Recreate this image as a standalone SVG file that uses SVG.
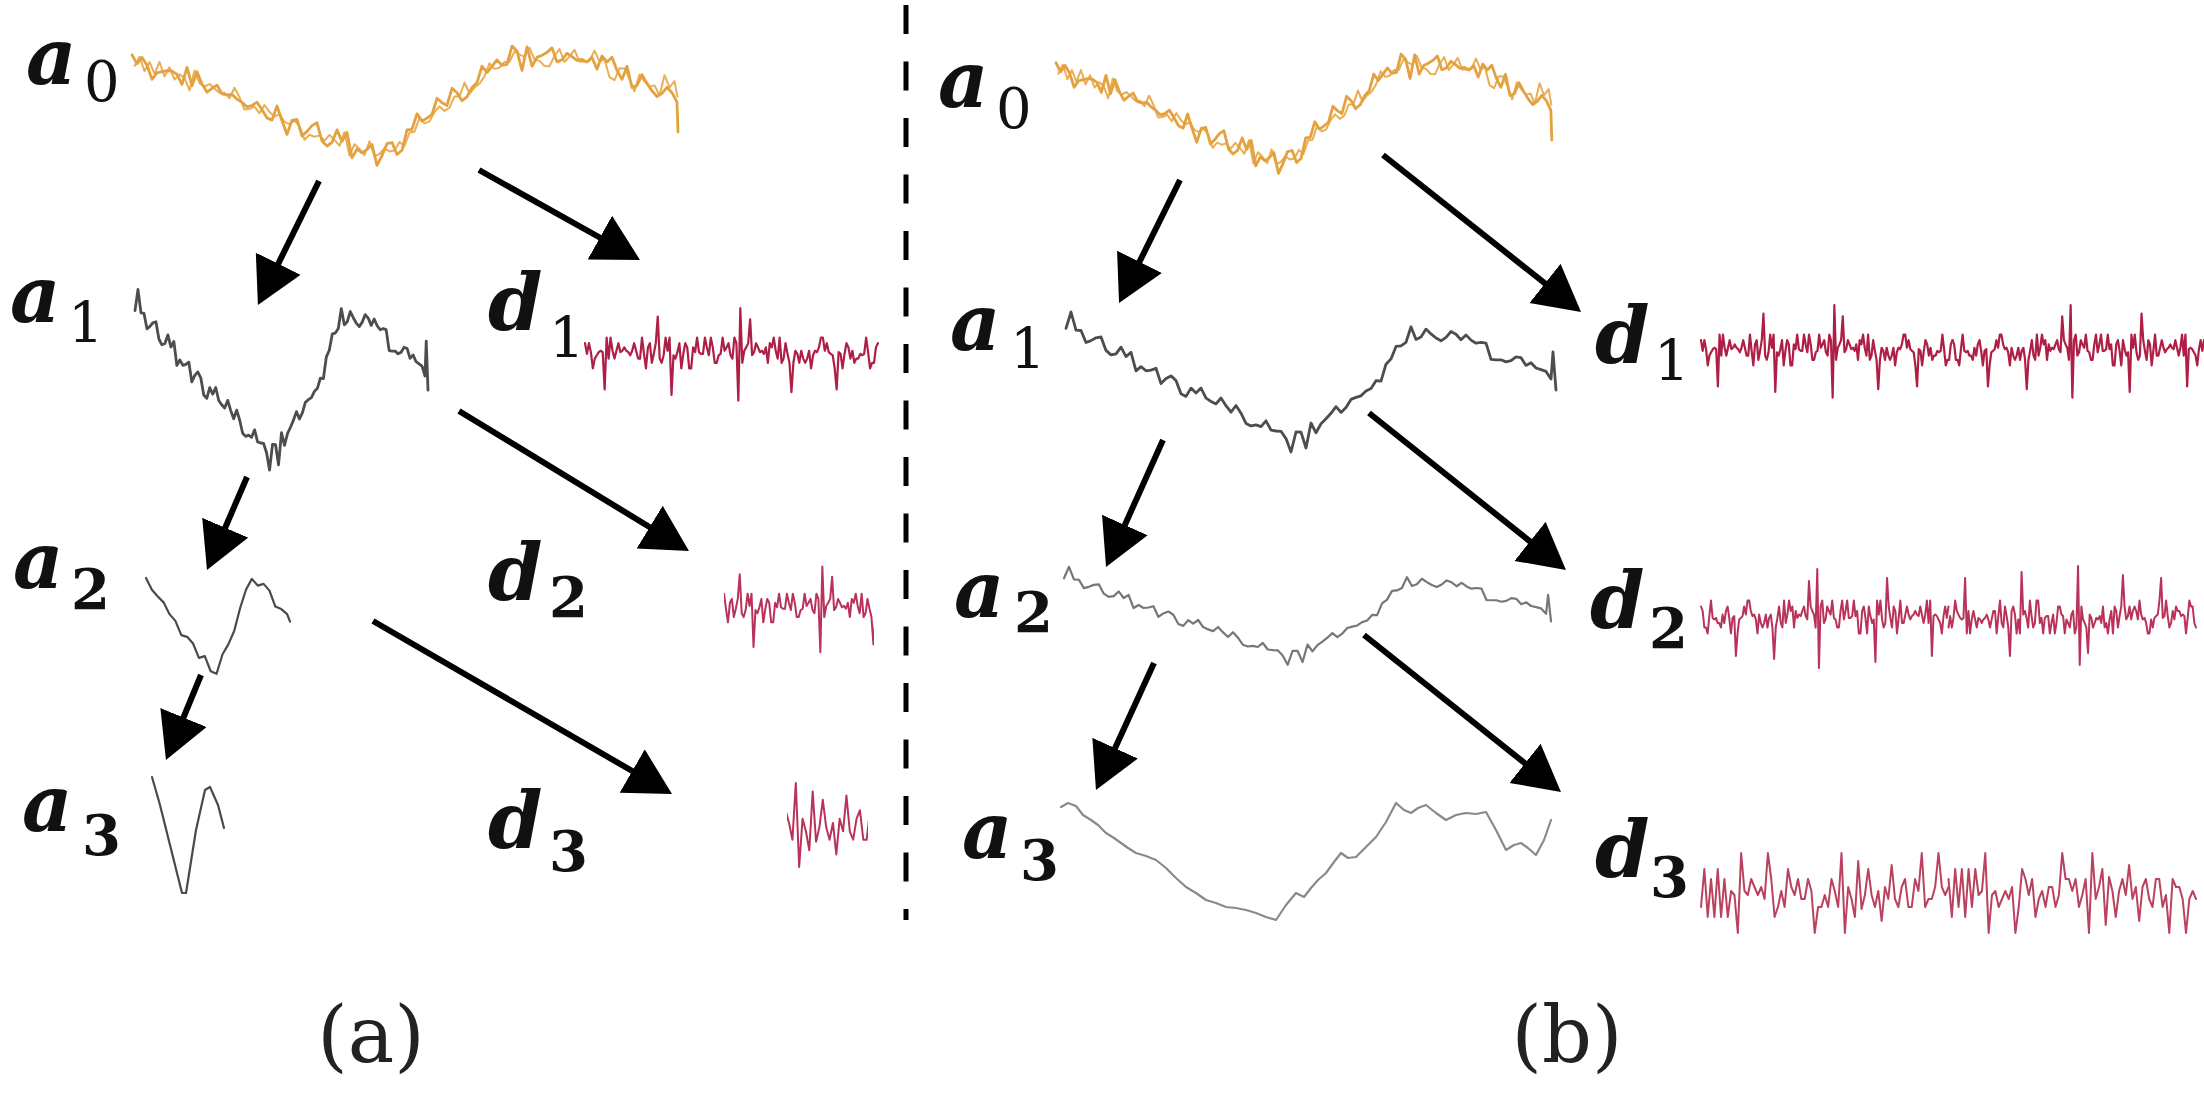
<svg xmlns="http://www.w3.org/2000/svg" xmlns:xlink="http://www.w3.org/1999/xlink" width="2204" height="1093" viewBox="0 0 2204 1093">
<style>
.lbl{font-family:"DejaVu Serif",serif;font-style:italic;font-weight:bold;font-size:78px;fill:#111}
.sub{font-style:normal;font-weight:normal;font-size:56px}
.subb{font-style:normal;font-weight:bold;font-size:56px}
.cap{font-family:"DejaVu Serif",serif;font-size:78px;fill:#222;text-anchor:middle}
.sig{fill:none;stroke-linejoin:round;stroke-linecap:round}
.org{stroke:#E3A23F;stroke-width:2.8}
.org2{stroke:#EAAE55;stroke-width:2}
.g1{stroke:#4d4d4d;stroke-width:2.8}
.g2{stroke:#777;stroke-width:2.2}
.g3{stroke:#8a8a8a;stroke-width:2.2}
.gL{stroke:#4a4a4a;stroke-width:2.2}
.r1{stroke:#AE1E45;stroke-width:2.2}
.r2{stroke:#B8325A;stroke-width:2}
.r3{stroke:#B9425F;stroke-width:2}
.arr{stroke:#000;stroke-width:6;fill:none;marker-end:url(#ah)}
</style>
<defs>
<marker id="ah" markerUnits="userSpaceOnUse" markerWidth="52" markerHeight="52" refX="6" refY="25" orient="auto">
<path d="M0,0 L46,25 L0,50 Z" fill="#000"/>
</marker>
<path id="nD" vector-effect="non-scaling-stroke" fill="none" d="M0,-35 L10,3 20,-35 30,-3 40,55 50,20 60,8 70,-3 80,-8 90,-3 100,130 110,-55 120,20 130,-55 140,-8 150,20 160,-8 170,-35 180,-3 190,-8 200,-20 210,-8 220,-3 230,8 240,-8 250,-35 260,-8 270,20 280,20 290,-55 300,3 310,55 320,-20 330,-35 340,35 350,3 360,-35 370,-130 380,20 390,35 400,8 410,-55 420,-8 430,-55 440,150 450,8 460,20 470,-3 480,-35 490,55 500,3 510,-35 520,-20 530,55 540,55 550,-20 560,-3 570,-55 580,-3 590,3 600,3 610,-55 620,-20 630,8 640,-55 650,-20 660,35 670,35 680,8 690,3 700,-55 710,-8 720,-20 730,-35 740,8 750,20 760,-55 770,-35 780,170 790,-160 800,35 810,-8 820,-20 830,-35 840,-120 850,8 860,-3 870,-35 880,-20 890,-3 900,-8 910,3 920,-20 930,35 940,-35 950,-20 960,-55 970,-8 980,20 990,-55 1000,35 1010,20 1020,-35 1030,3 1040,35 1050,140 1060,35 1070,-8 1080,3 1090,35 1100,-8 1110,20 1120,35 1130,20 1140,-8 1150,55 1160,8 1170,-8 1180,-3 1190,-20 1200,-55 1210,-55 1220,-8 1230,-35 1240,-3 1250,3 1260,8 1270,55 1280,130 1290,-3 1300,3 1310,55 1320,3 1330,-35 1340,-20 1350,20 1360,-8 1370,35 1380,20 1390,20 1400,3 1410,8 1420,3 1430,-55 1440,-3 1450,55 1460,35 1470,35 1480,-20 1490,-35"/>
<path id="nB" vector-effect="non-scaling-stroke" fill="none" d="M0,35 L10,-60 20,60 30,-35 40,60 50,-60 60,60 70,-35 80,60 90,-5 100,5 110,100 120,-100 130,-5 140,5 150,-35 160,-15 170,5 180,-15 190,15 200,-100 210,-35 220,60 230,35 240,-5 250,35 260,-60 270,-15 280,5 290,-35 300,15 310,15 320,-35 330,-5 340,100 350,35 360,35 370,5 380,35 390,-35 400,-5 410,35 420,-100 430,100 440,-15 450,15 460,60 470,-80 480,40 490,5 500,-60 510,5 520,35 530,-5 540,70 550,-15 560,15 570,-70 580,15 590,35 600,-15 610,-35 620,35 630,35 640,-35 650,-5 660,-100 670,35 680,15 690,15 700,-15 710,-100 720,-15 730,5 740,-15"/>
<path id="sA0" vector-effect="non-scaling-stroke" fill="none" d="M0,54.8 L5,63.9 10,57.4 15,65.3 20,79.3 25,72.8 30,71.7 35,70.6 40,71.1 45,74.4 50,84.4 55,67.4 60,85.7 65,71.7 70,84.1 75,92.2 80,88.3 85,85.1 90,93.8 95,94.8 100,94.5 105,99.1 110,102.4 115,106.9 120,105.5 125,102.2 130,109.8 135,117.9 140,120.1 145,106 150,120.8 155,134.4 160,120.3 165,119.5 170,136 175,131.4 180,125.6 185,122.8 190,141 195,146 200,142.3 205,129.9 210,141.4 215,132.5 220,157.9 225,149 230,152.8 235,149.6 240,144.6 245,165.4 250,155.6 255,143.6 260,142.5 265,154.5 270,150.3 275,130 280,129.4 285,113.8 290,121.1 295,118.1 300,114.3 305,98.3 310,102.8 315,105.5 320,88.3 325,92.8 330,100.7 335,96.8 340,87.6 345,82.6 350,66.1 355,72.5 360,66.4 365,59.9 370,65.4 375,64.3 380,46.1 385,51.1 390,70.5 395,46.8 400,66.2 405,57.4 410,55.2 415,52.4 420,47.9 425,61.9 430,59.7 435,53.3 440,56.6 445,60.4 450,59.4 455,62 460,57.4 465,69.1 470,56 475,62 480,57.2 485,70.4 490,79.4 495,66.2 500,87.5 505,85.4 510,74.8 515,83.4 520,90.9 525,96.5 530,93.4 535,87.3 540,92.7 545,102.2 546,132"/>
<path id="sA0b" vector-effect="non-scaling-stroke" fill="none" d="M2.5,65.9 L7.5,56.7 12.5,71.2 17.5,62 22.5,73.9 27.5,62 32.5,76.5 37.5,67.3 42.5,79.5 47.5,74.4 52.5,77.8 57.5,90.4 62.5,70.5 67.5,83.1 72.5,86.5 77.5,84.1 82.5,88.4 87.5,92.9 92.5,92.7 97.5,98.3 102.5,87.7 107.5,97 112.5,109.6 117.5,109 122.5,106.7 127.5,113.3 132.5,105 137.5,112 142.5,116.5 147.5,114.1 152.5,121.9 157.5,124.1 162.5,120.6 167.5,126.1 172.5,139.8 177.5,134.7 182.5,136.7 187.5,135.4 192.5,140.7 197.5,134.9 202.5,139.9 207.5,145.8 212.5,132.2 217.5,155.5 222.5,144.2 227.5,148.9 232.5,155.2 237.5,141.4 242.5,156.2 247.5,154 252.5,148.4 257.5,151.4 262.5,150.6 267.5,141.9 272.5,146 277.5,132.5 282.5,131.7 287.5,118.1 292.5,123.4 297.5,121.4 302.5,112 307.5,106.4 312.5,110.9 317.5,107.6 322.5,96.4 327.5,96.4 332.5,82.5 337.5,93.5 342.5,87.5 347.5,83.7 352.5,76.4 357.5,63.3 362.5,68.9 367.5,67.7 372.5,61.9 377.5,61.8 382.5,51.5 387.5,54.4 392.5,56.8 397.5,47.8 402.5,59.6 407.5,60.9 412.5,66 417.5,66.2 422.5,56 427.5,49.1 432.5,62 437.5,56.6 442.5,49.8 447.5,61.6 452.5,61.8 457.5,60.8 462.5,50.6 467.5,61.3 472.5,59.3 477.5,77.2 482.5,80.2 487.5,68.3 492.5,68.6 497.5,78.8 502.5,91.3 507.5,74.6 512.5,81.4 517.5,86.7 522.5,85.4 527.5,95.5 532.5,75.2 537.5,87.4 542.5,81.1 545.5,96.7"/>
<path id="sA1" vector-effect="non-scaling-stroke" fill="none" d="M0,328.4 L5,312 10,330.1 15,330.5 20,342.5 25,340.6 30,337.8 35,337 40,350.4 45,354.9 50,353.9 55,347.2 60,356.6 65,352.3 70,370.9 75,366.6 80,370.8 85,370.1 90,368.3 95,383.6 100,378.6 105,375.9 110,380.5 115,393.8 120,396.4 125,388.1 130,393.1 135,388 140,398.1 145,401.4 150,403.9 155,398 160,405.7 165,412.2 170,405.5 175,413.2 180,423.4 185,425.9 190,424.9 195,426.6 200,420.8 205,430.1 210,431 215,431.3 220,438.6 225,452 230,432 235,432.2 240,448 245,423 250,432.8 255,423.8 260,418.8 265,413.3 270,406.7 275,412.4 280,407.4 285,399.4 290,397.4 295,395.8 300,391 305,388.6 310,380.7 315,381.1 320,364.2 325,358.9 330,346.4 335,345.8 340,342.3 345,326.8 350,339.4 355,337 360,329.1 365,333.9 370,338 375,340.8 380,337.3 385,331.5 390,334.2 395,339.8 400,334.9 405,340.1 410,343.2 415,342.3 420,343.1 425,359.4 430,359.8 435,359.8 440,361.9 445,360.7 450,356.8 455,357.7 460,365.4 465,362.7 470,368 475,369.7 480,371.4 485,379.1 487,352 490,390"/>
<path id="sC" vector-effect="non-scaling-stroke" fill="none" d="M0,328 L20,342 40,350 60,357 80,371 100,379 120,396 140,398 160,406 180,423 200,421 220,439 240,442 260,419 280,407 300,391 320,364 340,342 360,329 380,337 400,335 420,343 440,362 460,365 480,371 490,380"/>
<clipPath id="cLd2"><rect x="724" y="540" width="150" height="130"/></clipPath>
<clipPath id="cLd3"><rect x="787" y="760" width="81" height="130"/></clipPath>
</defs>
<rect width="2204" height="1093" fill="#fff"/>

<g id="divider">
<line x1="906" y1="5" x2="906" y2="920" stroke="#000" stroke-width="5" stroke-dasharray="29 27.5"/>
</g>

<!-- Panel (a) -->
<g id="La0">
<use href="#sA0b" class="sig org2" transform="translate(132,0)"/>
<use href="#sA0" class="sig org" transform="translate(132,0)"/>
<text class="lbl" x="26" y="84">a<tspan class="sub" x="84" y="101">0</tspan></text>
</g>
<g id="La1">
<use href="#sA1" class="sig g1" transform="matrix(0.598 0 0 1.29 135 -113)"/>
<text class="lbl" x="10" y="322">a<tspan class="sub" x="68" y="342">1</tspan></text>
</g>
<g id="La2">
<use href="#sC" class="sig gL" transform="matrix(0.294 0 0 0.84 146 302.5)"/>
<text class="lbl" x="13" y="588">a<tspan class="subb" x="71" y="609">2</tspan></text>
</g>
<g id="La3">
<path class="sig gL" d="M152,777 L160,805 170,845 182,893 186,893 196,830 205,790 210,787 218,805 224,828"/>
<text class="lbl" x="22" y="831">a<tspan class="subb" x="82" y="855">3</tspan></text>
</g>
<g id="Ld1">
<use href="#nD" class="sig r1" transform="translate(585,353) scale(0.1966,0.28)"/>
<text class="lbl" x="488" y="330">d<tspan class="sub" x="549" y="357">1</tspan></text>
</g>
<g id="Ld2">
<g clip-path="url(#cLd2)"><use href="#nD" class="sig r2" transform="translate(667,608) scale(0.1966,0.26)"/></g>
<text class="lbl" x="488" y="600">d<tspan class="subb" x="549" y="617">2</tspan></text>
</g>
<g id="Ld3">
<g clip-path="url(#cLd3)"><use href="#nB" class="sig r2" transform="translate(654,825) scale(0.3376,0.42)"/></g>
<text class="lbl" x="488" y="848">d<tspan class="subb" x="549" y="871">3</tspan></text>
</g>
<text id="cap-a" class="cap" x="371" y="1062">(a)</text>

<!-- Panel (b) -->
<g id="Ra0">
<use href="#sA0b" class="sig org2" transform="translate(1056,8) scale(0.908,1)"/>
<use href="#sA0" class="sig org" transform="translate(1056,8) scale(0.908,1)"/>
<text class="lbl" x="938" y="107">a<tspan class="sub" x="996" y="128">0</tspan></text>
</g>
<g id="Ra1">
<use href="#sA1" class="sig g1" transform="translate(1066,0)"/>
<text class="lbl" x="950" y="350">a<tspan class="sub" x="1010" y="368">1</tspan></text>
</g>
<g id="Ra2">
<use href="#sA1" class="sig g2" transform="matrix(0.994 0 0 0.7 1064 348.4)"/>
<text class="lbl" x="954" y="617">a<tspan class="subb" x="1014" y="632">2</tspan></text>
</g>
<g id="Ra3">
<path class="sig g3" d="M1061,807 L1068,803 1076,806 1083,815 1091,820 1098,825 1106,833 1114,838 1121,843 1128,848 1136,853 1146,856 1156,860 1166,868 1176,878 1186,887 1196,893 1206,900 1216,903 1226,907 1236,908 1246,910 1256,913 1266,917 1276,920 1286,905 1296,893 1304,897 1311,888 1318,880 1326,873 1334,862 1341,853 1348,858 1356,857 1366,847 1376,837 1386,822 1396,803 1404,810 1411,813 1418,808 1426,805 1436,813 1446,820 1456,815 1466,813 1476,814 1486,812 1496,830 1506,850 1514,845 1521,843 1528,848 1536,855 1544,840 1551,820"/>
<text class="lbl" x="962" y="858">a<tspan class="subb" x="1020" y="880">3</tspan></text>
</g>
<g id="Rd1">
<use href="#nD" class="sig r1" transform="translate(1701,350) scale(0.1688,0.28)"/>
<use href="#nD" class="sig r1" transform="translate(2204,350) scale(-0.1688,0.28)"/>
<text class="lbl" x="1595" y="363">d<tspan class="sub" x="1654" y="380">1</tspan></text>
</g>
<g id="Rd2">
<use href="#nD" class="sig r2" transform="translate(1948.5,617) scale(-0.1661,0.3)"/>
<use href="#nD" class="sig r2" transform="translate(1948.5,617) scale(0.1661,-0.3)"/>
<text class="lbl" x="1590" y="628">d<tspan class="subb" x="1649" y="648">2</tspan></text>
</g>
<g id="Rd3">
<use href="#nB" class="sig r3" transform="translate(1701,893) scale(0.3345,0.4)"/>
<use href="#nB" class="sig r3" transform="translate(1948.5,893) scale(0.3345,-0.4)"/>
<text class="lbl" x="1595" y="877">d<tspan class="subb" x="1650" y="897">3</tspan></text>
</g>
<text id="cap-b" class="cap" x="1567" y="1062">(b)</text>

<g id="connectors">
<line class="arr" x1="319" y1="181" x2="275.6" y2="269.1"/>
<line class="arr" x1="479" y1="170" x2="605.1" y2="240.5"/>
<line class="arr" x1="459" y1="411" x2="654.8" y2="530.2"/>
<line class="arr" x1="247" y1="477" x2="222.8" y2="533.2"/>
<line class="arr" x1="373" y1="621" x2="637.4" y2="774"/>
<line class="arr" x1="201" y1="675" x2="181.2" y2="723"/>
<line class="arr" x1="1180" y1="180" x2="1136.8" y2="267.2"/>
<line class="arr" x1="1383" y1="155" x2="1549.7" y2="287.1"/>
<line class="arr" x1="1163" y1="440" x2="1122.4" y2="530.5"/>
<line class="arr" x1="1369" y1="413" x2="1534.7" y2="545.1"/>
<line class="arr" x1="1154" y1="663" x2="1112.6" y2="753.6"/>
<line class="arr" x1="1364" y1="635" x2="1529.7" y2="767.1"/>
</g>
</svg>
